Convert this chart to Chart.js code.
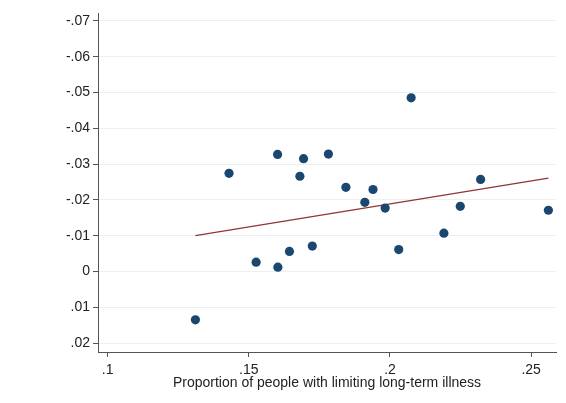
<!DOCTYPE html>
<html>
<head>
<meta charset="utf-8">
<script src="https://cdn.jsdelivr.net/npm/chart.js@4/dist/chart.umd.min.js"></script>
<style>
  html, body { margin: 0; padding: 0; background: #fff; }
  #wrap { width: 566px; height: 403px; }
</style>
</head>
<body>
<div id="wrap"><canvas id="illnessChart" width="566" height="403"></canvas></div>
<script>
// share with limiting long-term illness (x) vs outcome (y)
const illnessShare = [0.1311, 0.1430, 0.1602, 0.1694, 0.1782, 0.1681, 0.1526, 0.1603, 0.1644, 0.1725,
                      0.1844, 0.1940, 0.1911, 0.1983, 0.2031, 0.2075, 0.2191, 0.2249, 0.2321, 0.2561];
const outcome      = [0.0135, -0.0274, -0.0327, -0.0315, -0.0328, -0.0266, -0.0026, -0.0012, -0.0056, -0.0071,
                      -0.0235, -0.0229, -0.0193, -0.0177, -0.0061, -0.0485, -0.0107, -0.0182, -0.0257, -0.0171];

// fitted line end points
const fitX = [0.1311, 0.2561];
const fitY = [-0.0100, -0.0261];

const xTicks = [0.1, 0.15, 0.2, 0.25];
const yTicks = [-0.07, -0.06, -0.05, -0.04, -0.03, -0.02, -0.01, 0, 0.01, 0.02];

// Stata style: no leading zero
function stataLabel(v) {
  if (Math.abs(v) < 1e-9) return '0';
  let s = String(+v.toFixed(3));
  return s.replace('0.', '.');
}

const scatterPts = illnessShare.map((x, i) => ({ x: x, y: outcome[i] }));
const fitPts = fitX.map((x, i) => ({ x: x, y: fitY[i] }));

const font = { family: 'Liberation Sans, Arial, sans-serif', size: 14 };

new Chart(document.getElementById('illnessChart').getContext('2d'), {
  type: 'scatter',
  data: {
    datasets: [
      {
        label: 'fit',
        data: fitPts,
        showLine: true,
        borderColor: '#90353b',
        borderWidth: 1.3,
        pointRadius: 0,
        fill: false,
        order: 2
      },
      {
        label: 'obs',
        data: scatterPts,
        backgroundColor: '#1a476f',
        borderColor: '#1a476f',
        borderWidth: 0,
        pointRadius: 4.6,
        order: 1
      }
    ]
  },
  options: {
    responsive: false,
    animation: false,
    layout: { padding: { top: 13, right: 10, left: 0, bottom: 11 } },
    plugins: { legend: { display: false }, tooltip: { enabled: false } },
    scales: {
      x: {
        type: 'linear',
        min: 0.0966,
        max: 0.2588,
        afterBuildTicks: s => { s.ticks = xTicks.map(v => ({ value: v })); },
        afterFit: s => { s.height = 40; },
        ticks: { callback: v => stataLabel(v), color: '#222', font: font, padding: 5, maxRotation: 0 },
        grid: { drawOnChartArea: false, drawTicks: true, tickLength: 5, tickColor: '#555' },
        border: { color: '#555', width: 1 },
        title: { display: true, text: 'Proportion of people with limiting long-term illness',
                 color: '#222', font: font, padding: { top: 0, bottom: 0 } }
      },
      y: {
        type: 'linear',
        reverse: true,
        min: -0.0722,
        max: 0.0225,
        afterBuildTicks: s => { s.ticks = yTicks.map(v => ({ value: v })); },
        afterFit: s => { s.width = 98; },
        ticks: { callback: v => stataLabel(v), color: '#222', font: font, padding: 3 },
        grid: { color: '#eaf0f3', lineWidth: 1, drawTicks: true, tickLength: 5, tickColor: '#555' },
        border: { color: '#555', width: 1 }
      }
    }
  }
});
</script>
</body>
</html>
